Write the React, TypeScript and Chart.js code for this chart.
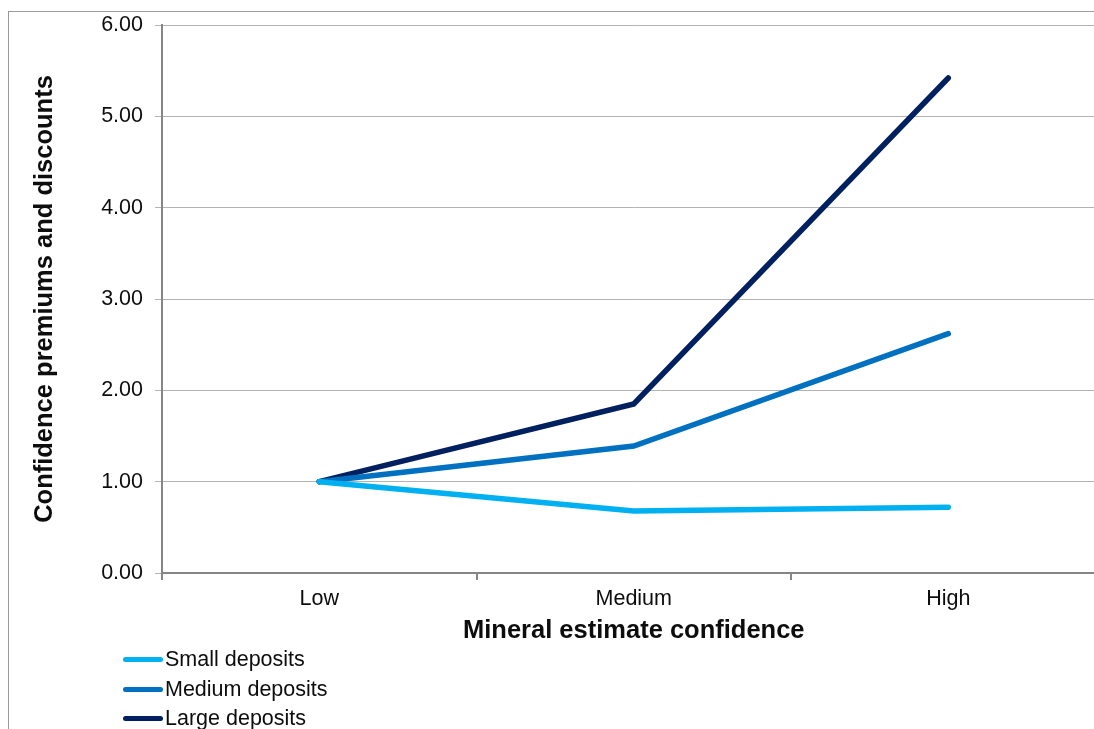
import React, { useEffect, useRef } from "react";
import { Chart, registerables } from "chart.js";

Chart.register(...registerables);

const categories = ["Low", "Medium", "High"];
const smallDeposits = [1.0, 0.68, 0.72];
const mediumDeposits = [1.0, 1.39, 2.62];
const largeDeposits = [1.0, 1.85, 5.42];
const seriesLabels = ["Small deposits", "Medium deposits", "Large deposits"];
const seriesColors = ["#00B0F0", "#0070C0", "#002060"];
const yTitle = "Confidence premiums and discounts";
const xTitle = "Mineral estimate confidence";

const FONT = "'Liberation Sans', Arial, sans-serif";

export default function App() {
  const ref = useRef<HTMLCanvasElement | null>(null);

  useEffect(() => {
    const canvas = ref.current;
    if (!canvas) return;
    const seriesValues = [smallDeposits, mediumDeposits, largeDeposits];
    const chart = new Chart(canvas, {
      type: "line",
      data: {
        labels: categories,
        datasets: seriesLabels.map((label, i) => ({
          label,
          data: seriesValues[i],
          borderColor: seriesColors[i],
          backgroundColor: seriesColors[i],
          borderWidth: 5.5,
          borderCapStyle: "round" as const,
          borderJoinStyle: "miter" as const,
          pointRadius: 0,
          tension: 0,
          fill: false,
        })),
      },
      options: {
        responsive: false,
        animation: false,
        devicePixelRatio: 1,
        layout: { autoPadding: false, padding: { left: 0, right: 13.5, top: 13, bottom: 79 } },
        plugins: {
          legend: { display: false },
          tooltip: { enabled: false },
        },
        scales: {
          x: {
            type: "category",
            offset: true,
            afterFit: (s: any) => {
              s.height = 90;
              s.paddingLeft = 0;
              s.paddingRight = 0;
            },
            grid: {
              offset: true,
              drawOnChartArea: false,
              drawTicks: true,
              tickLength: 7,
              color: "#868686",
              lineWidth: 2,
            },
            border: { display: true, color: "#868686", width: 2 },
            ticks: {
              padding: 6,
              color: "#0d0d0d",
              font: { family: FONT, size: 21.5 },
              maxRotation: 0,
            },
            title: {
              display: true,
              text: xTitle,
              color: "#0d0d0d",
              font: { family: FONT, size: 25.5, weight: "bold" },
              padding: { top: 0, bottom: 17 },
            },
          },
          y: {
            min: 0,
            max: 6,
            afterFit: (s: any) => {
              s.width = 153;
              s.paddingTop = 0;
              s.paddingBottom = 0;
            },
            grid: {
              color: "#b3b3b3",
              lineWidth: 1,
              drawTicks: true,
              tickLength: 7,
            },
            border: { display: true, color: "#868686", width: 2 },
            ticks: {
              stepSize: 1,
              padding: 12,
              color: "#0d0d0d",
              font: { family: FONT, size: 21.5 },
              callback: (v: any) => Number(v).toFixed(2),
            },
            title: {
              display: true,
              text: yTitle,
              color: "#0d0d0d",
              font: { family: FONT, size: 25.5, weight: "bold" },
              padding: { top: 21, bottom: 0 },
            },
          },
        },
      },
    });
    return () => chart.destroy();
  }, []);

  return (
    <div
      style={{
        position: "fixed",
        left: 8,
        top: 11,
        right: 0,
        bottom: 0,
        overflow: "hidden",
        background: "#fff",
      }}
    >
      <div
        style={{
          position: "relative",
          width: 1130,
          height: 760,
          borderLeft: "1px solid #9a9a9a",
          borderTop: "1px solid #9a9a9a",
        }}
      >
        <canvas
          ref={ref}
          width={1110}
          height={730}
          style={{ position: "absolute", left: 0, top: 0, width: 1110, height: 730 }}
        />
        <div style={{ position: "absolute", left: 114, top: 633 }}>
          {seriesLabels.map((label, i) => (
            <div
              key={label}
              style={{
                display: "flex",
                alignItems: "center",
                height: 29.5,
                fontFamily: FONT,
                fontSize: 21.5,
                color: "#0d0d0d",
                whiteSpace: "nowrap",
              }}
            >
              <span
                style={{
                  display: "inline-block",
                  width: 40,
                  height: 5,
                  borderRadius: 3,
                  background: seriesColors[i],
                  marginRight: 2,
                }}
              />
              <span>{label}</span>
            </div>
          ))}
        </div>
      </div>
    </div>
  );
}
